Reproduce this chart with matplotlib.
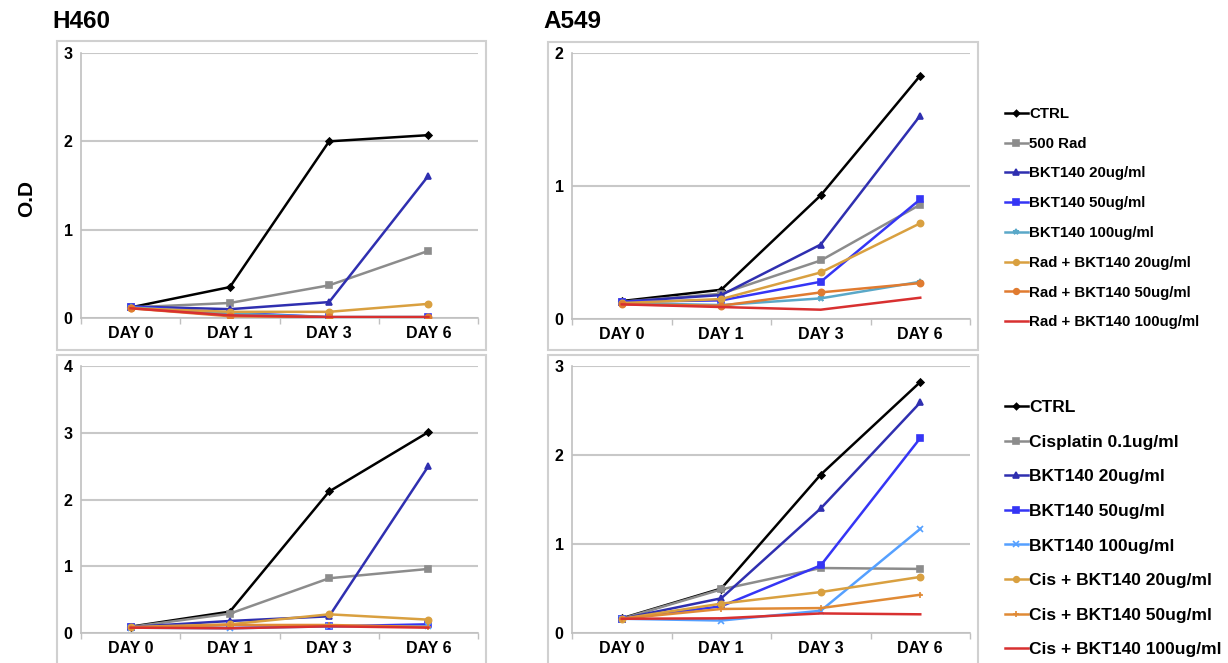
import matplotlib.pyplot as plt
from matplotlib.patches import Rectangle

plt.rcParams['font.family'] = ['Liberation Sans', 'DejaVu Sans']
plt.rcParams['font.weight'] = 'bold'

days = ['DAY 0', 'DAY 1', 'DAY 3', 'DAY 6']

# H460 + radiation
h460_rad = {
    'CTRL': [0.12, 0.35, 2.00, 2.07],
    '500 Rad': [0.12, 0.17, 0.37, 0.76],
    'BKT140 20ug/ml': [0.13, 0.10, 0.18, 1.61],
    'BKT140 50ug/ml': [0.13, 0.06, 0.01, 0.01],
    'BKT140 100ug/ml': [0.12, 0.05, 0.01, 0.01],
    'Rad + BKT140 20ug/ml': [0.11, 0.07, 0.07, 0.16],
    'Rad + BKT140 50ug/ml': [0.11, 0.02, 0.01, 0.01],
    'Rad + BKT140 100ug/ml': [0.11, 0.03, 0.01, 0.01],
}

# A549 + radiation
a549_rad = {
    'CTRL': [0.135, 0.22, 0.93, 1.83],
    '500 Rad': [0.13, 0.19, 0.44, 0.86],
    'BKT140 20ug/ml': [0.13, 0.18, 0.56, 1.53],
    'BKT140 50ug/ml': [0.13, 0.14, 0.28, 0.90],
    'BKT140 100ug/ml': [0.12, 0.105, 0.155, 0.28],
    'Rad + BKT140 20ug/ml': [0.12, 0.15, 0.35, 0.72],
    'Rad + BKT140 50ug/ml': [0.11, 0.10, 0.20, 0.27],
    'Rad + BKT140 100ug/ml': [0.11, 0.09, 0.07, 0.16],
}

# H460 + cisplatin
h460_cis = {
    'CTRL': [0.095, 0.32, 2.12, 3.01],
    'Cisplatin 0.1ug/ml': [0.09, 0.29, 0.82, 0.96],
    'BKT140 20ug/ml': [0.09, 0.18, 0.25, 2.50],
    'BKT140 50ug/ml': [0.09, 0.12, 0.10, 0.13],
    'BKT140 100ug/ml': [0.08, 0.07, 0.10, 0.10],
    'Cis + BKT140 20ug/ml': [0.09, 0.13, 0.28, 0.20],
    'Cis + BKT140 50ug/ml': [0.08, 0.12, 0.12, 0.09],
    'Cis + BKT140 100ug/ml': [0.08, 0.07, 0.10, 0.08],
}

# A549 + cisplatin
a549_cis = {
    'CTRL': [0.165, 0.50, 1.78, 2.82],
    'Cisplatin 0.1ug/ml': [0.16, 0.49, 0.73, 0.72],
    'BKT140 20ug/ml': [0.16, 0.39, 1.40, 2.59],
    'BKT140 50ug/ml': [0.16, 0.30, 0.76, 2.19],
    'BKT140 100ug/ml': [0.16, 0.14, 0.25, 1.17],
    'Cis + BKT140 20ug/ml': [0.16, 0.33, 0.46, 0.63],
    'Cis + BKT140 50ug/ml': [0.16, 0.27, 0.28, 0.43],
    'Cis + BKT140 100ug/ml': [0.16, 0.165, 0.22, 0.21],
}

colors_rad = ['#000000', '#8c8c8c', '#2f2fb0', '#3535f5', '#5aa8c8', '#d9a040', '#e07b30', '#d83030']
markers_rad = ['D', 's', '^', 's', '*', 'o', 'o', None]
colors_cis = ['#000000', '#8c8c8c', '#2f2fb0', '#3535f5', '#55a0ff', '#d9a040', '#e08a35', '#d83030']
markers_cis = ['D', 's', '^', 's', 'x', 'o', '+', None]

W, H = 1228, 663
fig = plt.figure(figsize=(W / 100, H / 100), dpi=100)


def px_box(x0, y0, x1, y1):
    return [x0 / W, 1 - y1 / H, (x1 - x0) / W, (y1 - y0) / H]


def panel(rect, data, ymax, colors, markers):
    ax = fig.add_axes(rect)
    for (name, vals), c, m in zip(data.items(), colors, markers):
        ax.plot(range(len(days)), vals, color=c, lw=1.8, marker=m,
                ms=3.5 if m == 'D' else 4.5, mew=1.2, label=name, zorder=3)
    ax.set_xlim(-0.5, 3.5)
    ax.set_ylim(0, ymax)
    ax.set_yticks(range(ymax + 1))
    ax.set_xticks(range(len(days)))
    ax.set_xticklabels(days)
    ax.set_xticks([-0.5, 0.5, 1.5, 2.5, 3.5], minor=True)
    ax.tick_params(axis='both', which='major', length=0, labelsize=11.5, pad=6)
    ax.tick_params(axis='x', which='minor', length=4, color='#c0c0c0', width=1)
    ax.yaxis.grid(True, color='#c8c8c8', lw=1.5, zorder=0)
    ax.set_axisbelow(True)
    for s in ['top', 'right']:
        ax.spines[s].set_visible(False)
    for s in ['left', 'bottom']:
        ax.spines[s].set_color('#c0c0c0')
        ax.spines[s].set_linewidth(1.2)
    return ax


# outer chart boxes
for (x0, y0, x1, y1) in [(57, 41, 486, 350), (548, 42, 978, 350),
                         (57, 355, 486, 668), (548, 355, 978, 668)]:
    fig.patches.append(Rectangle((x0 / W, 1 - y1 / H), (x1 - x0) / W, (y1 - y0) / H,
                                 transform=fig.transFigure, fill=False,
                                 ec='#d0d0d0', lw=1.5))

ax1 = panel(px_box(81, 53, 478, 318), h460_rad, 3, colors_rad, markers_rad)
ax2 = panel(px_box(572, 53, 970, 319), a549_rad, 2, colors_rad, markers_rad)
ax3 = panel(px_box(81, 366, 478, 633), h460_cis, 4, colors_cis, markers_cis)
ax4 = panel(px_box(572, 366, 970, 633), a549_cis, 3, colors_cis, markers_cis)

fig.text(52 / W, 1 - 22 / H, 'H460', fontsize=17.5, fontweight='bold', va='center', ha='left')
fig.text(543 / W, 1 - 22 / H, 'A549', fontsize=17.5, fontweight='bold', va='center', ha='left')
fig.text(27 / W, 1 - 198 / H, 'O.D', fontsize=15, fontweight='bold', rotation=90,
         va='center', ha='center')

ax2.legend(loc='upper left', bbox_to_anchor=(1005 / W, 1 - 107 / H), bbox_transform=fig.transFigure,
           frameon=False, fontsize=10.8, borderpad=0, borderaxespad=0, handlelength=1.5,
           handletextpad=0.1, labelspacing=1.05, markerscale=0.9)
ax4.legend(loc='upper left', bbox_to_anchor=(1005 / W, 1 - 400 / H), bbox_transform=fig.transFigure,
           frameon=False, fontsize=12.5, borderpad=0, borderaxespad=0, handlelength=1.3,
           handletextpad=0.1, labelspacing=1.12, markerscale=0.9)

plt.savefig('out.png', dpi=100)
